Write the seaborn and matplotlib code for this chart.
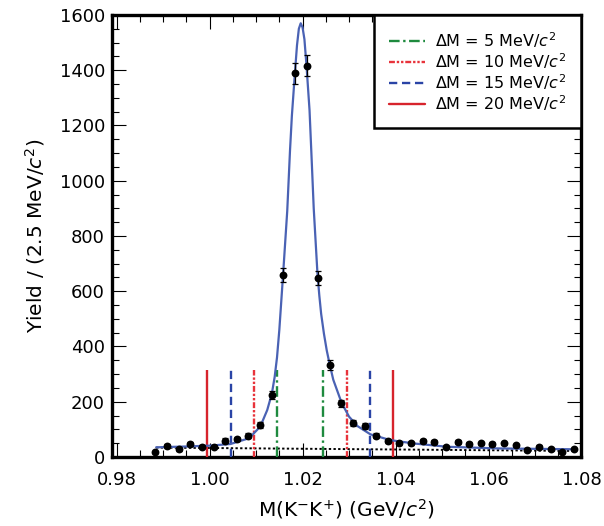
import matplotlib
import numpy as np
import pandas as pd
import matplotlib.pyplot as plt
import seaborn as sns
from matplotlib.ticker import MultipleLocator
from matplotlib.lines import Line2D

matplotlib.use("Agg")

# binned K-K+ invariant mass (GeV/c^2) and yields per 2.5 MeV/c^2
mass = [0.98835, 0.99085, 0.99335, 0.99585, 0.99835, 1.00085, 1.00335, 1.00585,
        1.00835, 1.01085, 1.01335, 1.01585, 1.01835, 1.02085, 1.02335, 1.02585,
        1.02835, 1.03085, 1.03335, 1.03585, 1.03835, 1.04085, 1.04335, 1.04585,
        1.04835, 1.05085, 1.05335, 1.05585, 1.05835, 1.06085, 1.06335, 1.06585,
        1.06835, 1.07085, 1.07335, 1.07585, 1.07835]
yields = [17, 40, 28, 48, 37, 37, 59, 66, 77, 116, 224, 658, 1389, 1416, 648, 333,
          194, 122, 112, 77, 58, 49, 49, 58, 53, 35, 54, 48, 49, 47, 49, 42,
          25, 37, 29, 17, 29]
errors = [4, 6, 5, 7, 6, 6, 8, 8, 9, 11, 15, 26, 37, 38, 25, 18,
          14, 11, 11, 9, 8, 7, 7, 8, 7, 6, 7, 7, 7, 7, 7, 6,
          5, 6, 5, 4, 5]

# fitted curve
fit_mass = [0.9885, 0.9950, 1.0000, 1.0045, 1.0085, 1.0109, 1.0124, 1.0134,
            1.0140, 1.0145, 1.0150, 1.0158, 1.0167, 1.0173, 1.0177, 1.01835,
            1.0188, 1.0192, 1.0196, 1.0200, 1.0204, 1.02085, 1.0215, 1.0220,
            1.0224, 1.0232, 1.0236, 1.0240, 1.0246, 1.0252, 1.0258, 1.0266,
            1.0284, 1.0300, 1.0318, 1.0346, 1.0389, 1.0439, 1.0511, 1.0619,
            1.0783]
fit_yield = [35, 38, 41, 47, 68, 110, 170, 230,
             290, 360, 460, 658, 890, 1110, 1235, 1389,
             1490, 1550, 1570, 1555, 1512, 1416, 1255, 1060,
             900, 665, 585, 518, 446, 386, 338, 280,
             196, 146, 112, 82, 61, 49, 37, 31,
             28]

# background component
bkg_mass = [0.9885, 1.0785]
bkg_yield = [34, 22]

# signal window cuts around the phi mass
phi_mass = 1.0195
delta_m = [5, 10, 15, 20]
cut_height = 315
cut_colors = ["#1e8a3e", "#e8333b", "#2a44a6", "#d7232c"]
cut_styles = [(0, (4.5, 1.5, 1, 1.5)), (0, (2.5, 0.8, 1, 0.8, 1, 0.8)),
              (0, (3.5, 2)), "-"]

sns.set_style("ticks")
plt.rcParams["font.family"] = ["DejaVu Sans"]
plt.rcParams["mathtext.fontset"] = "dejavusans"
plt.rcParams["text.color"] = "black"
plt.rcParams["axes.labelcolor"] = "black"
plt.rcParams["xtick.color"] = "black"
plt.rcParams["ytick.color"] = "black"

fig = plt.figure(figsize=(6.04, 5.26), dpi=100)
ax = fig.add_axes([0.1854, 0.1312, 0.7773, 0.8403])

fit_df = pd.DataFrame({"mass": fit_mass, "yield": fit_yield})
bkg_df = pd.DataFrame({"mass": bkg_mass, "yield": bkg_yield})
data_df = pd.DataFrame({"mass": mass, "yield": yields, "err": errors})

sns.lineplot(data=bkg_df, x="mass", y="yield", ax=ax, color="black",
             linestyle=(0, (1.2, 1.2)), linewidth=1.4, zorder=2)

for dm, col, ls in zip(delta_m, cut_colors, cut_styles):
    xs = [phi_mass - dm / 1000.0, phi_mass + dm / 1000.0]
    ax.vlines(xs, 0, cut_height, colors=col, linestyles=[ls], linewidth=1.7, zorder=3)

sns.lineplot(data=fit_df, x="mass", y="yield", ax=ax, color="#4a62b4",
             linewidth=1.6, zorder=4)

ax.errorbar(data_df["mass"], data_df["yield"], yerr=data_df["err"], fmt="none",
            ecolor="black", elinewidth=0.9, capsize=2, capthick=0.9, zorder=5)
sns.scatterplot(data=data_df, x="mass", y="yield", ax=ax, color="black", s=32,
                edgecolor="black", linewidth=0, zorder=6)

ax.set_xlim(0.979, 1.08)
ax.set_ylim(0, 1600)
ax.xaxis.set_major_locator(MultipleLocator(0.02))
ax.xaxis.set_minor_locator(MultipleLocator(0.005))
ax.yaxis.set_major_locator(MultipleLocator(200))
ax.yaxis.set_minor_locator(MultipleLocator(50))
ax.set_xticks([0.98, 1.00, 1.02, 1.04, 1.06, 1.08])
ax.set_xticklabels(["0.98", "1.00", "1.02", "1.04", "1.06", "1.08"])

ax.tick_params(which="both", direction="in", top=True, right=True,
               color="black", width=0.8, labelsize=13, labelcolor="black")
ax.tick_params(which="major", length=10)
ax.tick_params(which="minor", length=5)
ax.tick_params(axis="x", which="major", pad=10)
ax.tick_params(axis="y", which="major", pad=5)
for spine in ax.spines.values():
    spine.set_linewidth(2.4)
    spine.set_color("black")
    spine.set_visible(True)

ax.set_xlabel("M(K$^{-}$K$^{+}$) (GeV/$c^{2}$)", fontsize=14.5, labelpad=6)
ax.set_ylabel("Yield / (2.5 MeV/$c^{2}$)", fontsize=14.5, labelpad=9)

handles = [Line2D([0], [0], color=c, linestyle=s, linewidth=1.7)
           for c, s in zip(cut_colors, cut_styles)]
labels = [f"ΔM = {d} MeV/$c^{{2}}$" for d in delta_m]
leg = ax.legend(handles, labels, loc="upper right", borderaxespad=0,
                fontsize=11.5, frameon=True, fancybox=False, handlelength=2.3,
                handletextpad=0.6, labelspacing=0.08, borderpad=0.95)
leg.get_frame().set_edgecolor("black")
leg.get_frame().set_linewidth(1.8)
leg.get_frame().set_alpha(1)
for t in leg.get_texts():
    t.set_color("black")

fig.savefig("out.png", dpi=100)
